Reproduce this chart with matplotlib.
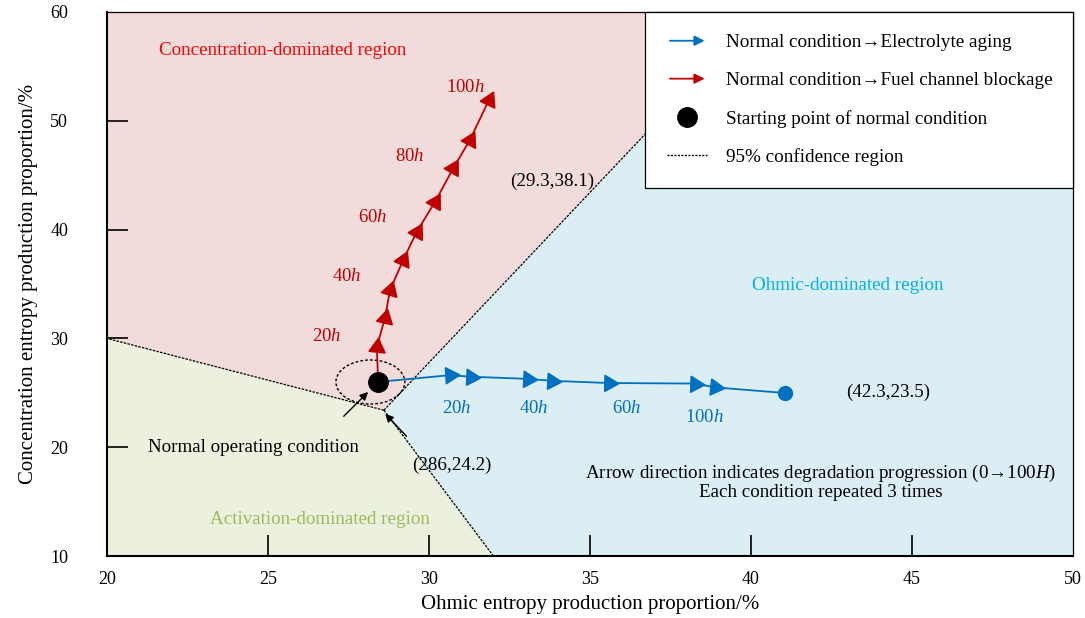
import numpy as np
import matplotlib
matplotlib.use('Agg')
import matplotlib.pyplot as plt
from matplotlib.patches import Polygon, Ellipse, FancyArrowPatch
from matplotlib.lines import Line2D
from matplotlib.legend_handler import HandlerBase

plt.rcParams['font.family'] = ['Liberation Serif', 'DejaVu Serif']
plt.rcParams['mathtext.fontset'] = 'custom'
plt.rcParams['mathtext.rm'] = 'Liberation Serif'
plt.rcParams['mathtext.it'] = 'Liberation Serif:italic'
plt.rcParams['font.size'] = 13.7

# region vertices (ohmic %, concentration %)
vertex = (28.6, 23.4)
conc_region = [(20, 30), (20, 60), (40.3, 60), vertex]
act_region = [(20, 10), (20, 30), vertex, (32.0, 10)]
ohm_region = [vertex, (32.0, 10), (50, 10), (50, 60), (40.3, 60)]

start_pt = (28.42, 26.0)

# normal -> fuel channel blockage
red_x = [28.42, 28.38, 28.63, 28.79, 29.20, 29.62, 30.19, 30.75, 31.27, 31.86]
red_y = [26.00, 29.24, 31.85, 34.45, 37.21, 39.81, 42.56, 45.63, 48.24, 51.90]
red_hours = ['20', '40', '60', '80', '100']
red_lab_x = [26.83, 27.45, 28.26, 29.41, 31.12]
red_lab_y = [30.2, 35.7, 41.1, 46.7, 53.1]

# normal -> electrolyte aging
blue_x = [28.42, 30.65, 31.30, 33.07, 33.82, 35.59, 38.26, 38.88, 41.06]
blue_y = [26.00, 26.62, 26.48, 26.28, 26.10, 25.90, 25.85, 25.50, 24.98]
blue_hours = ['20', '40', '60', '100']
blue_lab_x = [30.85, 33.25, 36.15, 38.55]
blue_lab_y = [23.6, 23.6, 23.6, 22.7]

c_pink = '#f2dcdb'
c_green = '#ebf1de'
c_blue = '#dbeef4'
c_red = '#c00000'
c_bl = '#0070c0'


class ArrowHandler(HandlerBase):
    def create_artists(self, legend, orig_handle, xdescent, ydescent,
                       width, height, fontsize, trans):
        a = FancyArrowPatch((-xdescent, height / 2 - ydescent),
                            (width - xdescent, height / 2 - ydescent),
                            arrowstyle='-|>', mutation_scale=15, lw=1.3,
                            color=orig_handle.get_color(), transform=trans)
        return [a]


fig = plt.figure(figsize=(10.85, 6.18), dpi=100)
ax = fig.add_axes([0.0986, 0.1003, 0.8904, 0.8803])
ax.set_xlim(20, 50)
ax.set_ylim(10, 60)

for poly, col in [(conc_region, c_pink), (act_region, c_green), (ohm_region, c_blue)]:
    ax.add_patch(Polygon(poly, closed=True, facecolor=col, edgecolor='none', zorder=0))

# region boundaries
for end in [(20, 30), (32.0, 10), (40.3, 60)]:
    ax.plot([vertex[0], end[0]], [vertex[1], end[1]], color='black', lw=0.9,
            ls=(0, (2, 1)), zorder=1)

# confidence ellipse
ax.add_patch(Ellipse((28.18, 25.99), 2.14, 4.05, fill=False, edgecolor='black',
                     lw=1.0, ls=(0, (2, 1.5)), zorder=3))


def directed_markers(xs, ys, color, idx):
    # triangle markers turned along the path direction (in pixel space)
    pts = ax.transData.transform(np.column_stack([xs, ys]))
    for i in idx:
        j0 = max(i - 1, 0)
        j1 = min(i + 1, len(xs) - 1)
        d = pts[j1] - pts[j0]
        ang = np.degrees(np.arctan2(d[1], d[0])) - 90
        ax.plot(xs[i], ys[i], marker=(3, 0, ang), ms=13.5, color=color, ls='none', zorder=5)


ax.plot(red_x, red_y, color=c_red, lw=1.3, zorder=4)
directed_markers(red_x, red_y, c_red, range(1, len(red_x)))
ax.plot(blue_x, blue_y, color=c_bl, lw=1.3, zorder=4)
directed_markers(blue_x, blue_y, c_bl, range(1, len(blue_x) - 1))
ax.plot(blue_x[-1], blue_y[-1], 'o', color=c_bl, ms=10, zorder=5)
ax.plot(*start_pt, 'o', color='black', ms=14, zorder=6)

for h, x, y in zip(red_hours, red_lab_x, red_lab_y):
    ax.text(x, y, h + r'$h$', color=c_red, ha='center', va='center', fontsize=13.5)
for h, x, y in zip(blue_hours, blue_lab_x, blue_lab_y):
    ax.text(x, y, h + r'$h$', color=c_bl, ha='center', va='center', fontsize=13.5)

ax.text(25.47, 56.5, 'Concentration-dominated region', color='#ff0000', ha='center', va='center')
ax.text(43.0, 34.9, 'Ohmic-dominated region', color='#00b0f0', ha='center', va='center')
ax.text(26.6, 13.4, 'Activation-dominated region', color='#9bbb59', ha='center', va='center')
ax.text(21.27, 19.93, 'Normal operating condition', ha='left', va='center')
ax.text(29.47, 18.36, '(286,24.2)', ha='left', va='center')
ax.text(32.52, 44.4, '(29.3,38.1)', ha='left', va='center')
ax.text(42.95, 25.0, '(42.3,23.5)', ha='left', va='center')
ax.text(42.16, 17.63, 'Arrow direction indicates degradation progression (0\u2192100$H$)',
        ha='center', va='center')
ax.text(42.16, 15.8, 'Each condition repeated 3 times', ha='center', va='center')

ax.annotate('', xy=(28.17, 25.26), xytext=(27.29, 22.66),
            arrowprops=dict(arrowstyle='-|>', color='black', lw=1.0, mutation_scale=12), zorder=7)
ax.annotate('', xy=(28.58, 23.26), xytext=(29.36, 20.82),
            arrowprops=dict(arrowstyle='-|>', color='black', lw=1.0, mutation_scale=12), zorder=7)

ax.set_xticks([20, 25, 30, 35, 40, 45, 50])
ax.set_yticks([10, 20, 30, 40, 50, 60])
ax.tick_params(axis='both', direction='in', length=15, width=1.2, labelsize=13)
ax.tick_params(axis='y', pad=28)
ax.tick_params(axis='x', pad=11)
ax.tick_params(top=False, right=False)
# end ticks sit on the frame, hide their marks
for axis in [ax.xaxis, ax.yaxis]:
    ticks = axis.get_major_ticks()
    for t in (ticks[0], ticks[-1]):
        t.tick1line.set_visible(False)
for s in ['left', 'bottom']:
    ax.spines[s].set_linewidth(1.5)
for s in ['top', 'right']:
    ax.spines[s].set_linewidth(0.9)
    ax.spines[s].set_linestyle((0, (1, 1)))

ax.set_xlabel('Ohmic entropy production proportion/%', fontsize=15, labelpad=5)
ax.set_ylabel('Concentration entropy production proportion/%', fontsize=15, labelpad=9)

handles = [Line2D([], [], color=c_bl), Line2D([], [], color=c_red),
           Line2D([], [], marker='o', color='black', ls='none', ms=14),
           Line2D([], [], color='black', lw=1.0, ls=(0, (1.5, 1)))]
labels = ['Normal condition\u2192Electrolyte aging',
          'Normal condition\u2192Fuel channel blockage',
          'Starting point of normal condition',
          '95% confidence region']
leg = ax.legend(handles, labels, loc='upper right', bbox_to_anchor=(0.557, 0.0, 0.443, 1.0),
                mode='expand', borderaxespad=0, fancybox=False, framealpha=1, edgecolor='black',
                handlelength=2.1, handletextpad=0.95, labelspacing=1.07, borderpad=1.15,
                fontsize=13.8, handler_map={handles[0]: ArrowHandler(), handles[1]: ArrowHandler()})
leg.get_frame().set_linewidth(0.9)
leg.set_zorder(10)

fig.savefig('out.png', dpi=100)
